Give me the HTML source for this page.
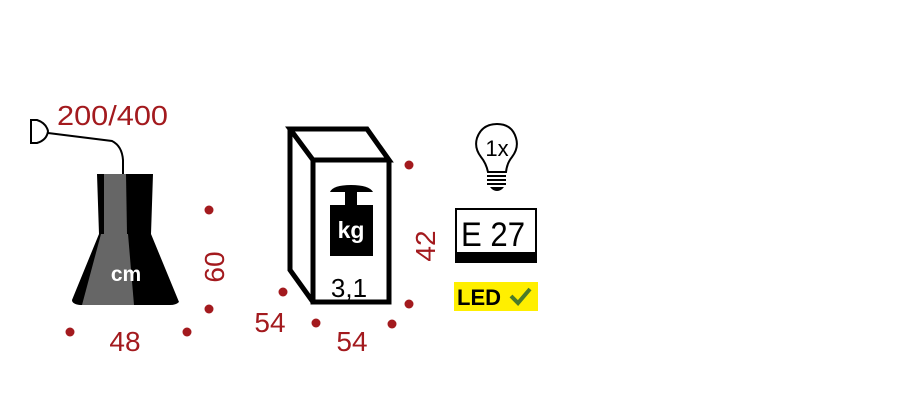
<!DOCTYPE html>
<html><head><meta charset="utf-8"><style>
html,body{margin:0;padding:0;background:#fff}
svg{display:block}
text{font-family:"Liberation Sans",sans-serif}
</style></head><body>
<svg width="900" height="400" viewBox="0 0 900 400" xmlns="http://www.w3.org/2000/svg">
<!-- lamp -->
<path d="M31,120 L31,143 L37,143 Q47,140 48,131 Q46,123 37,120 Z" fill="#fff" stroke="#000" stroke-width="2"/>
<path d="M48,133 L112,141 Q122,146 123,160 L123,174" fill="none" stroke="#000" stroke-width="2"/>
<path d="M97,174 L153,174 L151,234 L179,302 Q176,305 170,305 L80,305 Q72,304 72,300 L99,234 Z" fill="#000"/>
<path d="M104,174 L126,174 L127,234 L104,234 Z" fill="#666"/>
<path d="M101,234 L128,234 L134,305 L82,305 Z" fill="#666"/>
<text x="126" y="281" font-size="21" font-weight="bold" fill="#fff" text-anchor="middle">cm</text>
<text x="57" y="125" font-size="28" fill="#a31a1e" textLength="111" lengthAdjust="spacingAndGlyphs">200/400</text>
<g fill="#a31a1e">
<circle cx="209" cy="210" r="4.5"/><circle cx="209" cy="309" r="4.5"/>
<circle cx="70" cy="332" r="4.5"/><circle cx="187" cy="332" r="4.5"/>
<circle cx="409" cy="165" r="4.5"/><circle cx="283" cy="292" r="4.5"/>
<circle cx="316" cy="323" r="4.5"/><circle cx="409" cy="304" r="4.5"/>
<circle cx="392" cy="324" r="4.5"/>
</g>
<text x="125" y="351" font-size="28" fill="#a31a1e" text-anchor="middle">48</text>
<text transform="translate(224,267) rotate(-90)" font-size="28" fill="#a31a1e" text-anchor="middle">60</text>
<!-- box -->
<path d="M290,129 L367,129 L389,160 L313,160 Z M290,129 L290,270 L313,302 M313,160 L313,302 L389,302 L389,160" fill="none" stroke="#000" stroke-width="5" stroke-linejoin="miter"/>
<path d="M330,192 Q333,185 351,185 Q369,185 373,192 Z" fill="#000"/>
<rect x="345" y="190" width="12" height="16" fill="#000"/>
<rect x="330" y="205" width="43" height="51" fill="#000"/>
<text x="351" y="238" font-size="23" font-weight="bold" fill="#fff" text-anchor="middle">kg</text>
<text x="349" y="297" font-size="26" fill="#000" text-anchor="middle">3,1</text>
<text x="270" y="332" font-size="28" fill="#a31a1e" text-anchor="middle">54</text>
<text x="352" y="351" font-size="28" fill="#a31a1e" text-anchor="middle">54</text>
<text transform="translate(435,246) rotate(-90)" font-size="28" fill="#a31a1e" text-anchor="middle">42</text>
<!-- bulb -->
<path d="M488,172 Q486,163 481,157 Q474,148 477,138 Q482,124 497,124 Q512,124 516,138 Q519,148 512,157 Q507,163 506,172 Z" fill="#fff" stroke="#000" stroke-width="2"/>
<text x="497" y="156" font-size="22" fill="#000" text-anchor="middle">1x</text>
<g stroke="#000" stroke-width="2"><line x1="487" y1="176" x2="506" y2="176"/><line x1="487" y1="180" x2="506" y2="180"/><line x1="487" y1="184" x2="506" y2="184"/></g>
<path d="M490,187 L504,187 Q501,191 497,191 Q493,191 490,187 Z" fill="#000"/>
<!-- E27 -->
<rect x="456" y="209" width="80" height="45" fill="#fff" stroke="#000" stroke-width="2"/>
<rect x="455" y="252" width="82" height="11" fill="#000"/>
<text x="461" y="246" font-size="34" fill="#000" textLength="64" lengthAdjust="spacingAndGlyphs">E 27</text>
<!-- LED -->
<rect x="454" y="282" width="84" height="29" fill="#ffef00"/>
<text x="457" y="305" font-size="22" font-weight="bold" fill="#000">LED</text>
<path d="M511,296 L518,303 L530,289" fill="none" stroke="#4a7a2a" stroke-width="4"/>
</svg>
</body></html>
